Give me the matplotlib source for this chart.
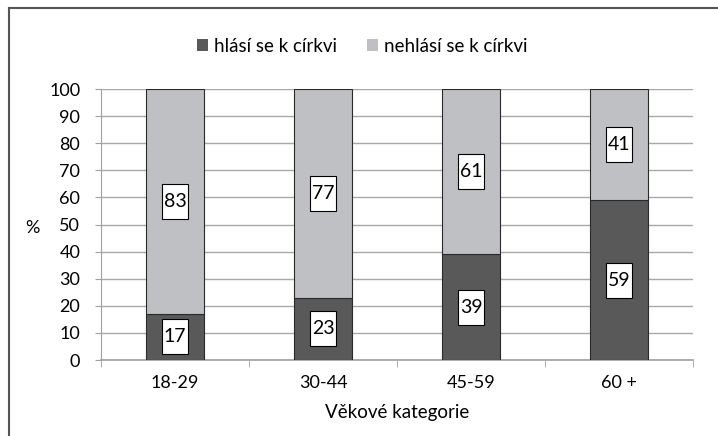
import matplotlib
matplotlib.use("Agg")
import matplotlib.pyplot as plt
from matplotlib.patches import Patch, Rectangle
from matplotlib.lines import Line2D

categories = ["18-29", "30-44", "45-59", "60 +"]
hlasi = [17, 23, 39, 59]
nehlasi = [83, 77, 61, 41]
series_names = ["hlásí se k církvi", "nehlásí se k církvi"]
yticks = list(range(0, 101, 10))

plt.rcParams['font.family'] = ['Lato', 'DejaVu Sans']

W, H = 718, 436
fig = plt.figure(figsize=(W/100, H/100), dpi=100)
ax = fig.add_axes([101/W, 1-360/H, (693-101)/W, (360-89)/H])

dark = "#595959"
light = "#bfc0c4"
x = list(range(len(categories)))
ax.bar(x, hlasi, width=0.39, color=dark, edgecolor="#2a2a2a", linewidth=0.8, zorder=3)
ax.bar(x, nehlasi, bottom=hlasi, width=0.39, color=light, edgecolor="#2a2a2a", linewidth=0.8, zorder=3)

bw, bh = 0.176, 12.9
def label(xc, yc, txt):
    ax.add_patch(Rectangle((xc - bw/2, yc - bh/2), bw, bh, facecolor="white",
                           edgecolor="black", linewidth=0.8, zorder=4))
    ax.text(xc, yc, txt, ha="center", va="center", fontsize=14, zorder=5)

for i in x:
    label(i, hlasi[i]/2, str(hlasi[i]))
    label(i, hlasi[i] + nehlasi[i]/2, str(nehlasi[i]))

ax.set_xlim(-0.5, len(categories)-0.5)
ax.set_ylim(0, 100)
ax.set_yticks(yticks)
ax.set_yticklabels([str(t) for t in yticks], fontsize=13)
ax.set_xticks(x)
ax.set_xticklabels(categories, fontsize=13)
ax.tick_params(axis="x", length=0, pad=11)
ax.set_xticks([i - 0.5 for i in range(len(categories)+1)], minor=True)
ax.tick_params(axis="x", which="minor", length=5, color="#a0a0a0", direction="out")
ax.tick_params(axis="y", length=4, color="#a0a0a0", pad=11)
ax.grid(axis="y", color="#a8a8a8", linewidth=1.0, zorder=0)
ax.set_axisbelow(True)
for s in ["top", "right"]:
    ax.spines[s].set_visible(False)
ax.spines["left"].set_color("#a0a0a0")
ax.spines["bottom"].set_color("#a0a0a0")
ax.spines["bottom"].set_linewidth(1.2)

ax.set_xlabel("Věkové kategorie", fontsize=13.5, labelpad=9)
fig.text(32/W, 1-228/H, "%", fontsize=13, ha="center", va="center")

handles = [Patch(facecolor=dark, edgecolor="none"), Patch(facecolor=light, edgecolor="none")]
fig.legend(handles, series_names, loc="center", bbox_to_anchor=(362/W, 1-46/H), ncol=2,
           frameon=False, fontsize=13.5, handlelength=0.6, handleheight=0.6,
           handletextpad=0.3, columnspacing=1.6)

fig.add_artist(Line2D([8.5/W, 8.5/W], [0, 1-8.5/H], color="#555555", lw=1.5))
fig.add_artist(Line2D([8.5/W, 1], [1-8.5/H, 1-8.5/H], color="#555555", lw=1.5))

fig.savefig("out.png", dpi=100)
